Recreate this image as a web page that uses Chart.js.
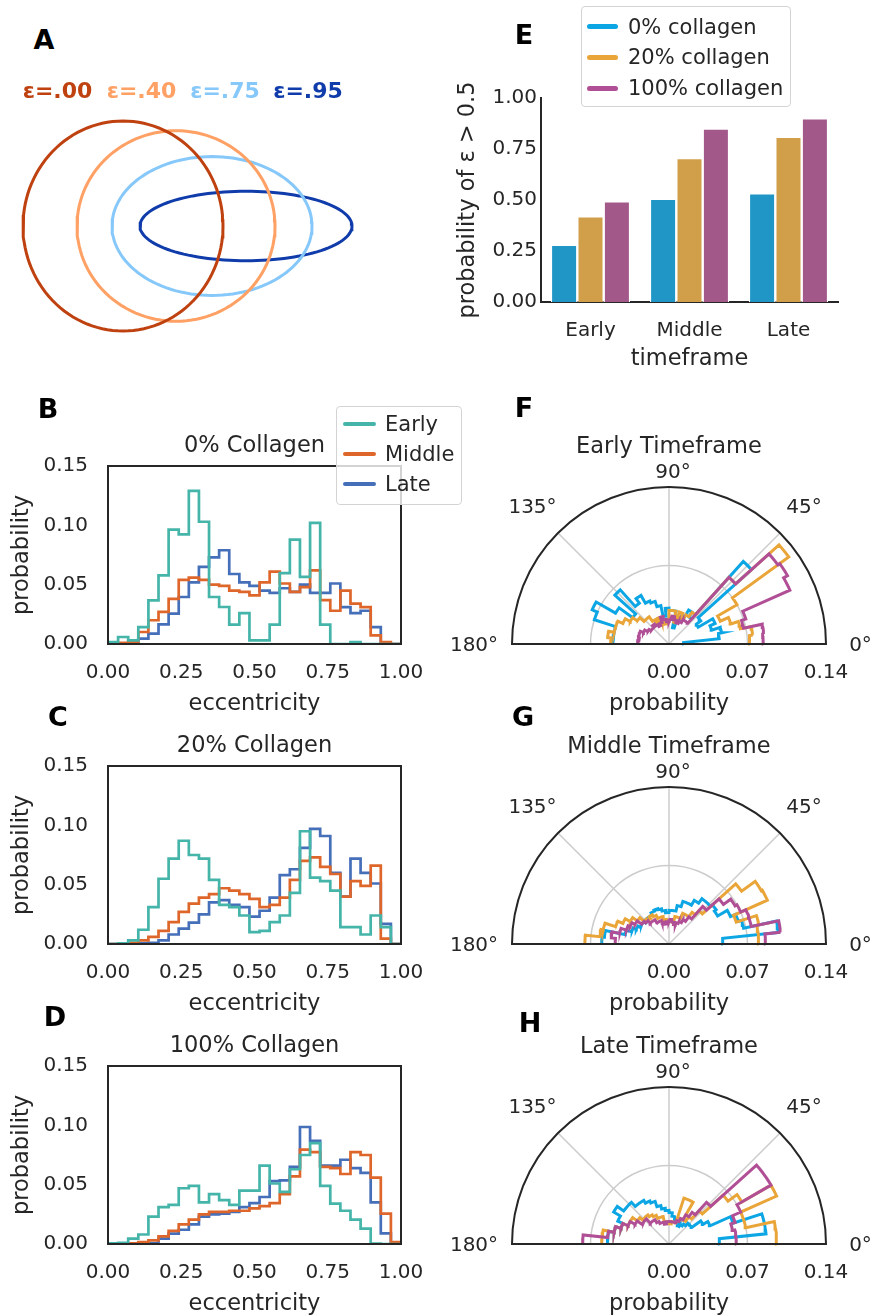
<!DOCTYPE html>
<html>
<head>
<meta charset="utf-8">
<script src="https://cdn.jsdelivr.net/npm/chart.js@4.4.0/dist/chart.umd.min.js"></script>
<style>
  html, body { margin: 0; padding: 0; background: #fff; overflow: hidden; }
  body { width: 872px; height: 1316px; position: relative; font-family: 'DejaVu Sans', sans-serif; color: #262626; }
  canvas { position: absolute; }
  .t { position: absolute; transform: translate(-50%, -50%); line-height: 1; white-space: nowrap; z-index: 2; }
  .panel { font-size: 27px; font-weight: bold; color: #000; }
  .eps { font-size: 22px; font-weight: bold; }
  .title { font-size: 22.5px; }
  .tick { font-size: 20px; }
  .legend { position: absolute; border: 1px solid #d4d4d4; border-radius: 4px; background: rgba(255,255,255,0.8); box-sizing: border-box; z-index: 3; }
  .legend .sw { position: absolute; border-radius: 3px; }
  .legend .lt { position: absolute; font-size: 21px; line-height: 1; transform: translateY(-50%); white-space: nowrap; }
</style>
</head>
<body>

<canvas id="chartA" width="380" height="250" style="left:0;top:100px"></canvas>
<canvas id="chartE" width="432" height="380" style="left:440px;top:0"></canvas>
<canvas id="chartB" width="460" height="300" style="left:0;top:420px"></canvas>
<canvas id="chartC" width="460" height="300" style="left:0;top:720px"></canvas>
<canvas id="chartD" width="460" height="300" style="left:0;top:1020px"></canvas>
<canvas id="chartF" width="412" height="300" style="left:460px;top:420px"></canvas>
<canvas id="chartG" width="412" height="300" style="left:460px;top:720px"></canvas>
<canvas id="chartH" width="412" height="300" style="left:460px;top:1020px"></canvas>

<div class="t panel" style="left:44px;top:39px">A</div>
<div class="t panel" style="left:48px;top:408px">B</div>
<div class="t panel" style="left:58px;top:716px">C</div>
<div class="t panel" style="left:55px;top:1016px">D</div>
<div class="t panel" style="left:524px;top:34px">E</div>
<div class="t panel" style="left:524px;top:407px">F</div>
<div class="t panel" style="left:523px;top:716px">G</div>
<div class="t panel" style="left:530px;top:1022px">H</div>

<div id="epsLabels"></div>

<div class="t title" style="left:254.5px;top:444px">0% Collagen</div>
<div class="t title" style="left:254.5px;top:744px">20% Collagen</div>
<div class="t title" style="left:254.5px;top:1044px">100% Collagen</div>
<div class="t title" style="left:669px;top:445px">Early Timeframe</div>
<div class="t title" style="left:669px;top:745px">Middle Timeframe</div>
<div class="t title" style="left:669px;top:1045px">Late Timeframe</div>

<div id="angleLabels"></div>

<div class="legend" id="legendB" style="left:336px;top:406px;width:126px;height:99px"></div>
<div class="legend" id="legendE" style="left:581px;top:6px;width:210px;height:101px"></div>

<script>
Chart.defaults.font.family = "'DejaVu Sans', sans-serif";
Chart.defaults.color = '#262626';
const ink = '#262626';

// ---- A: ellipse sketch
const eccentricities = [0.00, 0.40, 0.75, 0.95];
const eccLabels = ['ε=.00', 'ε=.40', 'ε=.75', 'ε=.95'];

// ---- E: share of cells with eccentricity above 0.5
const timeframes = ['Early', 'Middle', 'Late'];
const collagenLevels = ['0% collagen', '20% collagen', '100% collagen'];
const elongated0 = [0.28, 0.506, 0.533];
const elongated20 = [0.42, 0.706, 0.81];
const elongated100 = [0.494, 0.85, 0.90];
const shareTicks = [0, 0.25, 0.5, 0.75, 1];

// ---- B-D: eccentricity histograms, 29 equal bins on [0, 1]
const stages = ['Early', 'Middle', 'Late'];
const eccTicks = [0, 0.25, 0.5, 0.75, 1];
const probTicks = [0, 0.05, 0.10, 0.15];

const ecc0Early = [0.0017, 0.0059, 0.0031, 0.0143, 0.0368, 0.0579, 0.0963, 0.0924, 0.129, 0.103, 0.0396, 0.0312, 0.0163, 0.0261, 0.0031, 0.0031, 0.0163, 0.0598, 0.088, 0.0565, 0.102, 0.0163, 0, 0, 0.0017, 0, 0, 0, 0];
const ecc0Middle = [0, 0.001, 0.002, 0.0101, 0.02, 0.027, 0.038, 0.054, 0.056, 0.054, 0.05, 0.049, 0.045, 0.044, 0.041, 0.052, 0.061, 0.051, 0.044, 0.048, 0.062, 0.037, 0.028, 0.045, 0.034, 0.031, 0.0073, 0.0017, 0];
const ecc0Late = [0, 0, 0, 0.0045, 0.0087, 0.0166, 0.0256, 0.0396, 0.052, 0.065, 0.073, 0.079, 0.059, 0.052, 0.049, 0.045, 0.043, 0.047, 0.044, 0.05, 0.043, 0.043, 0.051, 0.031, 0.026, 0.028, 0.0143, 0, 0];

const ecc20Early = [0, 0.0006, 0.003, 0.012, 0.031, 0.055, 0.072, 0.087, 0.075, 0.072, 0.054, 0.033, 0.031, 0.024, 0.01, 0.011, 0.0185, 0.024, 0.043, 0.095, 0.056, 0.053, 0.045, 0.0143, 0.0143, 0.008, 0.024, 0.0143, 0];
const ecc20Middle = [0, 0, 0.001, 0.003, 0.006, 0.011, 0.0185, 0.027, 0.034, 0.039, 0.042, 0.047, 0.045, 0.042, 0.038, 0.031, 0.033, 0.039, 0.054, 0.07, 0.073, 0.065, 0.059, 0.04, 0.053, 0.049, 0.066, 0.0045, 0];
const ecc20Late = [0, 0, 0, 0.0006, 0.001, 0.003, 0.008, 0.013, 0.018, 0.025, 0.035, 0.037, 0.033, 0.031, 0.023, 0.028, 0.039, 0.058, 0.063, 0.081, 0.097, 0.091, 0.06, 0.04, 0.072, 0.06, 0.051, 0.017, 0];

const ecc100Early = [0.0006, 0.001, 0.0045, 0.008, 0.023, 0.031, 0.033, 0.047, 0.049, 0.035, 0.042, 0.037, 0.033, 0.045, 0.045, 0.066, 0.051, 0.044, 0.063, 0.075, 0.085, 0.049, 0.034, 0.028, 0.0205, 0.013, 0.0003, 0, 0];
const ecc100Middle = [0, 0, 0.0006, 0.0017, 0.003, 0.0065, 0.011, 0.0166, 0.0205, 0.025, 0.027, 0.027, 0.028, 0.028, 0.03, 0.032, 0.0345, 0.042, 0.057, 0.0795, 0.0775, 0.065, 0.064, 0.059, 0.0775, 0.075, 0.056, 0.0256, 0.0017];
const ecc100Late = [0, 0, 0, 0, 0.0006, 0.0045, 0.0087, 0.012, 0.0166, 0.023, 0.025, 0.0256, 0.027, 0.031, 0.0345, 0.0396, 0.053, 0.0537, 0.065, 0.0986, 0.087, 0.066, 0.066, 0.071, 0.064, 0.06, 0.035, 0.009, 0.001];

// ---- F-H: orientation histograms, 6 degree bins over 0-180
const angleBinDeg = 6;
const radialTicks = [0, 0.07, 0.14];

const orient0Early = [0.013, 0.045, 0.048, 0.04, 0.045, 0.03, 0.035, 0.099, 0.03, 0.035, 0.028, 0.022, 0.015, 0.03, 0.03, 0.032, 0.025, 0.035, 0.04, 0.042, 0.05, 0.045, 0.065, 0.04, 0.055, 0.075, 0.07, 0.05, 0.05, 0.05];
const orient20Early = [0.072, 0.075, 0.065, 0.058, 0.05, 0.07, 0.132, 0.08, 0.035, 0.03, 0.025, 0.03, 0.02, 0.03, 0.03, 0.02, 0.018, 0.02, 0.025, 0.022, 0.025, 0.03, 0.03, 0.035, 0.04, 0.045, 0.05, 0.05, 0.055, 0.052];
const orient100Early = [0.084, 0.085, 0.068, 0.072, 0.118, 0.122, 0.12, 0.08, 0.025, 0.025, 0.022, 0.02, 0.022, 0.025, 0.022, 0.02, 0.022, 0.025, 0.02, 0.018, 0.02, 0.022, 0.02, 0.02, 0.022, 0.025, 0.028, 0.028, 0.027, 0.028];

const orient0Middle = [0.048, 0.098, 0.068, 0.065, 0.06, 0.05, 0.052, 0.05, 0.05, 0.045, 0.04, 0.04, 0.035, 0.03, 0.03, 0.028, 0.03, 0.032, 0.033, 0.032, 0.03, 0.03, 0.028, 0.03, 0.03, 0.032, 0.035, 0.04, 0.058, 0.06];
const orient20Middle = [0.08, 0.08, 0.082, 0.063, 0.096, 0.095, 0.08, 0.04, 0.035, 0.03, 0.03, 0.025, 0.025, 0.02, 0.02, 0.02, 0.022, 0.025, 0.025, 0.028, 0.03, 0.028, 0.03, 0.035, 0.04, 0.045, 0.05, 0.06, 0.062, 0.075];
const orient100Middle = [0.086, 0.1, 0.075, 0.075, 0.07, 0.068, 0.06, 0.045, 0.03, 0.025, 0.022, 0.02, 0.018, 0.02, 0.022, 0.02, 0.018, 0.02, 0.022, 0.022, 0.025, 0.025, 0.028, 0.03, 0.035, 0.038, 0.04, 0.045, 0.052, 0.048];

const orient0Late = [0.045, 0.087, 0.087, 0.06, 0.04, 0.035, 0.025, 0.025, 0.022, 0.02, 0.018, 0.02, 0.022, 0.025, 0.028, 0.03, 0.032, 0.035, 0.04, 0.042, 0.045, 0.045, 0.05, 0.05, 0.057, 0.05, 0.045, 0.05, 0.055, 0.055];
const orient20Late = [0.096, 0.096, 0.07, 0.07, 0.105, 0.075, 0.065, 0.04, 0.03, 0.025, 0.043, 0.043, 0.02, 0.02, 0.018, 0.02, 0.02, 0.025, 0.025, 0.028, 0.03, 0.032, 0.032, 0.035, 0.04, 0.04, 0.045, 0.05, 0.06, 0.06];
const orient100Late = [0.06, 0.06, 0.058, 0.062, 0.07, 0.105, 0.105, 0.05, 0.035, 0.03, 0.025, 0.022, 0.02, 0.02, 0.02, 0.02, 0.018, 0.02, 0.02, 0.022, 0.025, 0.025, 0.03, 0.03, 0.035, 0.04, 0.045, 0.05, 0.055, 0.077];

// colours
const ellipseColours = ['#be410f', '#ffa064', '#87c8fa', '#0f3caa'];
const stageColours = ['#45b5aa', '#de662a', '#466fba'];
const barColours = ['#1f96c6', '#d19f49', '#a3588a'];
const collagenColours = ['#0ca6e4', '#eaa539', '#b04f96'];

const noInteraction = { legend: { display: false }, tooltip: { enabled: false } };
const labelFont = { size: 22.5 };
const tickFont = { size: 20 };

// ---------------------------------------------------------------- A
// ellipses share the same long axis, short axis follows from eccentricity
const ellipseCentres = [0, 0.53, 0.89, 1.23];
const ellipseMajor = [1.0, 0.99, 1.0, 1.06];

function ellipsePoints(e, cx, a) {
  const b = a * Math.sqrt(1 - e * e);
  const pts = [];
  for (let d = 0; d <= 360; d += 3) {
    const t = d * Math.PI / 180;
    pts.push({ x: cx + a * Math.cos(t), y: b * Math.sin(t) });
  }
  return pts;
}

new Chart(document.getElementById('chartA'), {
  type: 'scatter',
  data: {
    datasets: eccentricities.map((e, i) => ({
      data: ellipsePoints(e, ellipseCentres[i], ellipseMajor[i]),
      showLine: true, pointRadius: 0, borderWidth: 3, borderColor: ellipseColours[i], clip: false
    }))
  },
  options: {
    responsive: false, animation: false, events: [],
    layout: { padding: 0 },
    plugins: noInteraction,
    scales: {
      x: { type: 'linear', display: false, min: -1.23, max: 2.57 },
      y: { type: 'linear', display: false, min: -1.181, max: 1.2 }
    }
  }
});

const epsX = [57.5, 141.5, 225, 308];
document.getElementById('epsLabels').innerHTML = eccLabels.map((s, i) =>
  `<div class="t eps" style="left:${epsX[i]}px;top:91px;color:${ellipseColours[i]}">${s}</div>`).join('');

// ---------------------------------------------------------------- E
new Chart(document.getElementById('chartE'), {
  type: 'bar',
  data: {
    labels: timeframes,
    datasets: [elongated0, elongated20, elongated100].map((d, i) => ({
      label: collagenLevels[i], data: d, backgroundColor: barColours[i],
      borderColor: '#ffffff', borderWidth: 1.2,
      categoryPercentage: 0.8, barPercentage: 1
    }))
  },
  options: {
    responsive: false, animation: false, events: [],
    layout: { padding: { top: 98, right: 34, bottom: 3, left: 0 } },
    plugins: noInteraction,
    scales: {
      x: {
        afterFit: (s) => { s.height = 75; },
        grid: { display: false, drawTicks: false },
        border: { display: true, color: ink, width: 2 },
        ticks: { padding: 17, font: tickFont },
        title: { display: true, text: 'timeframe', font: labelFont, padding: { top: 0, bottom: 4.2 } }
      },
      y: {
        min: 0, max: 1,
        afterFit: (s) => { s.width = 101; },
        afterBuildTicks: (s) => { s.ticks = shareTicks.map((v) => ({ value: v })); },
        grid: { display: false, drawTicks: false },
        border: { display: true, color: ink, width: 2 },
        ticks: { padding: 4, font: tickFont, callback: (v) => Number(v).toFixed(2) },
        title: { display: true, text: 'probability of ε > 0.5', font: labelFont, padding: { top: 14.7, bottom: 0 } }
      }
    }
  }
});

// ---------------------------------------------------------------- B-D
function stepPoints(values) {
  const w = 1 / values.length;
  const pts = [{ x: 0, y: 0 }];
  values.forEach((v, k) => { pts.push({ x: k * w, y: v }, { x: (k + 1) * w, y: v }); });
  pts.push({ x: 1, y: 0 });
  return pts;
}

const boxFrame = {
  id: 'boxFrame',
  afterDatasetsDraw(chart) {
    const { ctx, chartArea: a } = chart;
    ctx.save();
    ctx.strokeStyle = ink;
    ctx.lineWidth = 2;
    ctx.strokeRect(a.left, a.top, a.right - a.left, a.bottom - a.top);
    ctx.restore();
  }
};

function histogramPanel(id, series) {
  new Chart(document.getElementById(id), {
    type: 'scatter',
    data: {
      datasets: series.map((values, i) => ({
        label: stages[i], data: stepPoints(values),
        showLine: true, pointRadius: 0, borderWidth: 2.7,
        borderColor: stageColours[i], borderJoinStyle: 'miter'
      }))
    },
    options: {
      responsive: false, animation: false, events: [],
      layout: { padding: { top: 46, right: 59, bottom: 0, left: 0 } },
      plugins: noInteraction,
      scales: {
        x: {
          type: 'linear', min: 0, max: 1,
          afterFit: (s) => { s.height = 76; },
          afterBuildTicks: (s) => { s.ticks = eccTicks.map((v) => ({ value: v })); },
          grid: { display: false, drawTicks: false },
          border: { display: false },
          ticks: { padding: 17, font: tickFont, callback: (v) => Number(v).toFixed(2) },
          title: { display: true, text: 'eccentricity', font: labelFont, padding: { top: 0, bottom: 2.5 } }
        },
        y: {
          type: 'linear', min: 0, max: 0.15,
          afterFit: (s) => { s.width = 108; },
          afterBuildTicks: (s) => { s.ticks = probTicks.map((v) => ({ value: v })); },
          grid: { display: false, drawTicks: false },
          border: { display: false },
          ticks: { padding: 20, font: tickFont, callback: (v) => Number(v).toFixed(2) },
          title: { display: true, text: 'probability', font: labelFont, padding: { top: 8.5, bottom: 0 } }
        }
      }
    },
    plugins: [boxFrame]
  });
}

histogramPanel('chartB', [ecc0Early, ecc0Middle, ecc0Late]);
histogramPanel('chartC', [ecc20Early, ecc20Middle, ecc20Late]);
histogramPanel('chartD', [ecc100Early, ecc100Middle, ecc100Late]);

// ---------------------------------------------------------------- F-H
function polarSteps(values) {
  const rad = Math.PI / 180;
  const pts = [];
  values.forEach((r, k) => {
    for (let d = k * angleBinDeg; d <= (k + 1) * angleBinDeg; d += 2) {
      pts.push({ x: r * Math.cos(d * rad), y: r * Math.sin(d * rad) });
    }
  });
  return pts;
}

const polarFrame = {
  id: 'polarFrame',
  beforeDatasetsDraw(chart) {
    const { ctx, scales: { x, y } } = chart;
    const cx = x.getPixelForValue(0), cy = y.getPixelForValue(0);
    const R = x.getPixelForValue(radialTicks[radialTicks.length - 1]) - cx;
    ctx.save();
    ctx.strokeStyle = '#cccccc';
    ctx.lineWidth = 1.5;
    radialTicks.slice(1, -1).forEach((v) => {
      ctx.beginPath();
      ctx.arc(cx, cy, x.getPixelForValue(v) - cx, Math.PI, 2 * Math.PI);
      ctx.stroke();
    });
    [45, 90, 135].forEach((deg) => {
      const t = deg * Math.PI / 180;
      ctx.beginPath();
      ctx.moveTo(cx, cy);
      ctx.lineTo(cx + R * Math.cos(t), cy - R * Math.sin(t));
      ctx.stroke();
    });
    ctx.restore();
  },
  afterDatasetsDraw(chart) {
    const { ctx, scales: { x, y } } = chart;
    const cx = x.getPixelForValue(0), cy = y.getPixelForValue(0);
    const R = x.getPixelForValue(radialTicks[radialTicks.length - 1]) - cx;
    ctx.save();
    ctx.strokeStyle = ink;
    ctx.lineWidth = 2;
    ctx.beginPath();
    ctx.moveTo(cx - R, cy);
    ctx.arc(cx, cy, R, Math.PI, 2 * Math.PI);
    ctx.closePath();
    ctx.stroke();
    ctx.restore();
  }
};

function polarPanel(id, series) {
  // drawn last = on top, so 100% collagen goes first
  const order = [2, 1, 0];
  new Chart(document.getElementById(id), {
    type: 'scatter',
    data: {
      datasets: order.map((i) => ({
        label: collagenLevels[i], data: polarSteps(series[i]),
        showLine: true, pointRadius: 0, borderWidth: 3,
        borderColor: collagenColours[i], borderJoinStyle: 'miter', clip: false
      }))
    },
    options: {
      responsive: false, animation: false, events: [],
      layout: { padding: { top: 67, right: 46, bottom: 0, left: 52 } },
      plugins: noInteraction,
      scales: {
        x: {
          type: 'linear', min: -0.14, max: 0.14,
          afterFit: (s) => { s.height = 76; },
          afterBuildTicks: (s) => { s.ticks = radialTicks.map((v) => ({ value: v })); },
          grid: { display: false, drawTicks: false },
          border: { display: false },
          ticks: { padding: 17, font: tickFont, callback: (v) => Number(v).toFixed(2) },
          title: { display: true, text: 'probability', font: labelFont, padding: { top: 0, bottom: 2.5 } }
        },
        y: { type: 'linear', display: false, min: 0, max: 0.14 }
      }
    },
    plugins: [polarFrame]
  });
}

polarPanel('chartF', [orient0Early, orient20Early, orient100Early]);
polarPanel('chartG', [orient0Middle, orient20Middle, orient100Middle]);
polarPanel('chartH', [orient0Late, orient20Late, orient100Late]);

// angle labels around each half disc
const angleNames = ['0°', '45°', '90°', '135°', '180°'];
const angleLabelX = [860.5, 804, 673, 532.5, 474];
const angleLabelDy = [0, -137.6, -172.6, -137.6, 0];
const polarCentresY = [644, 944, 1244];
document.getElementById('angleLabels').innerHTML = polarCentresY.map((cy) =>
  angleNames.map((s, i) =>
    `<div class="t tick" style="left:${angleLabelX[i]}px;top:${cy + angleLabelDy[i]}px">${s}</div>`).join('')
).join('');

// ---------------------------------------------------------------- legends
function buildLegend(id, names, colours, rowsY, swLeft, swWidth, swThick, textLeft) {
  const box = document.getElementById(id);
  const top = box.offsetTop, left = box.offsetLeft;
  box.innerHTML = names.map((n, i) =>
    `<div class="sw" style="left:${swLeft - left - 1}px;top:${rowsY[i] - top - 1 - swThick / 2}px;width:${swWidth}px;height:${swThick}px;background:${colours[i]}"></div>` +
    `<div class="lt" style="left:${textLeft - left - 1}px;top:${rowsY[i] - top - 1}px">${n}</div>`).join('');
}
buildLegend('legendB', stages, stageColours, [424.3, 454.3, 484.3], 343, 33, 4, 385);
buildLegend('legendE', collagenLevels, collagenColours, [26.7, 57.3, 88.3], 587, 31, 5, 628);
</script>
</body>
</html>
